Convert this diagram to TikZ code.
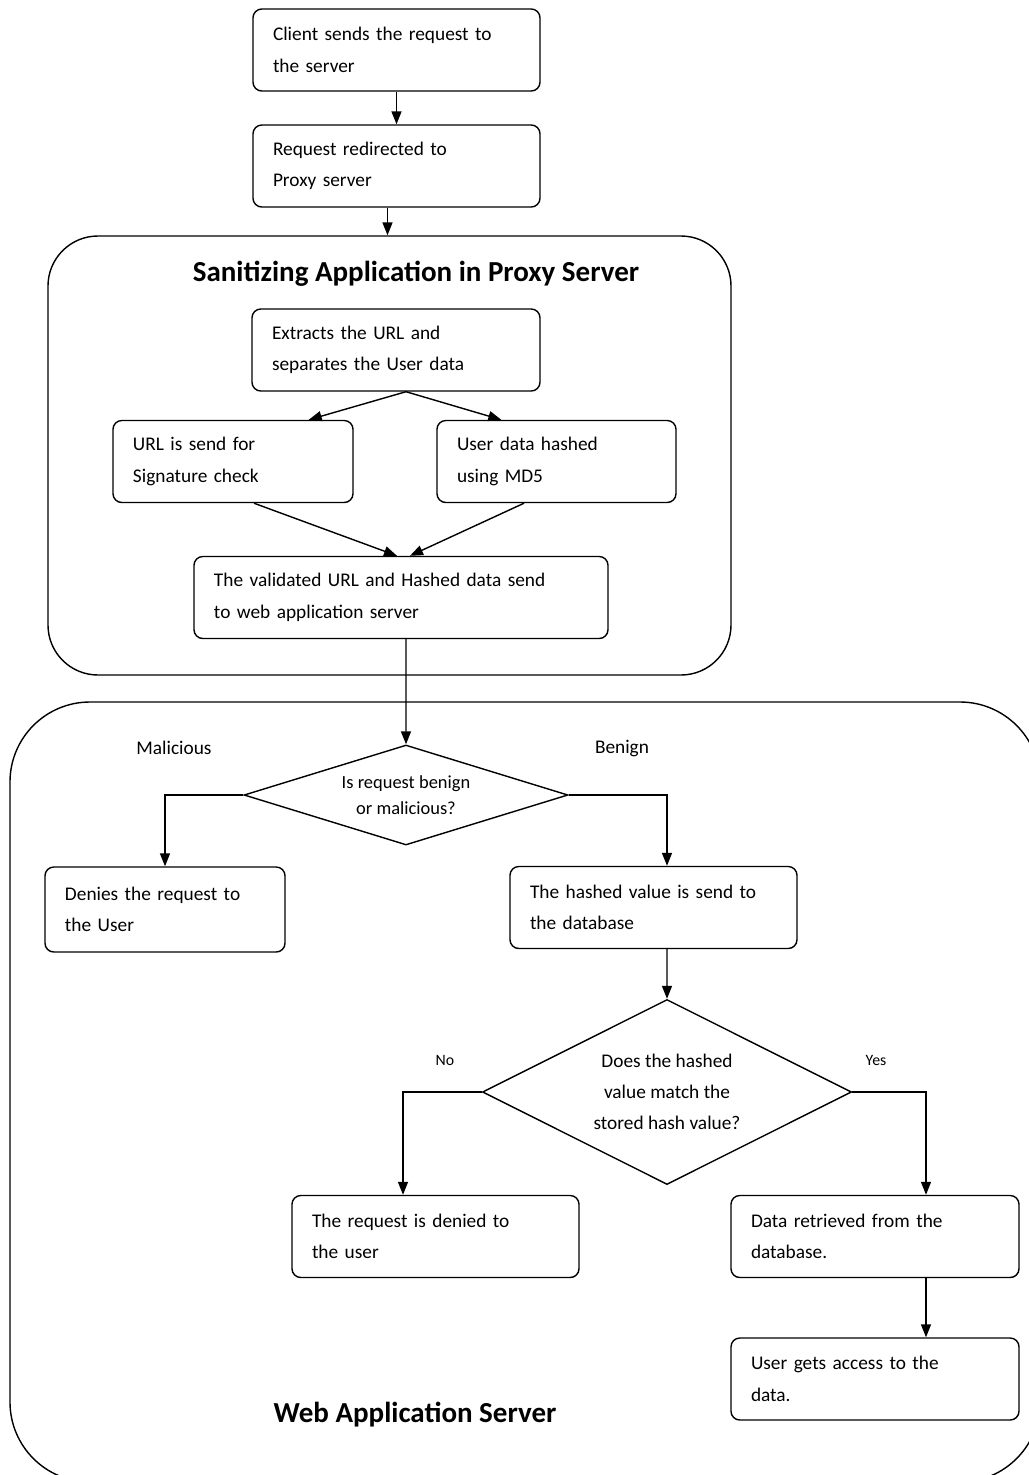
\documentclass[tikz,border=0pt]{standalone}
\usepackage{fontspec}
\setmainfont{Carlito}
\usetikzlibrary{shapes, arrows.meta}

\tikzset{
    txt/.style={font=\fontsize{11}{18}\selectfont},
    box/.style={txt, draw, rounded corners=5pt, line width=0.8pt, align=left, inner xsep=4mm, minimum height=16.4mm},
    choice/.style={diamond, draw, line width=0.8pt, inner sep=0pt, align=center},
    frame/.style={draw, line width=0.8pt},
    heading/.style={font=\bfseries\fontsize{16.5}{19}\selectfont},
    flow/.style={-{Triangle[length=2.6mm, width=2mm]}, line width=0.8pt},
}

\begin{document}
\begin{tikzpicture}[x=0.2mm, y=-0.2mm]
    \clip (0,0) rectangle (1029,1475);

    % outer frames
    \node[frame, rounded corners=10mm, minimum width=136.6mm, minimum height=87.8mm] (proxy) at (389.5,455.5) {};
    \node[frame, rounded corners=16mm, minimum width=206mm, minimum height=156mm] (webapp) at (525,1092) {};
    \node[heading] (proxytitle) at (416,274) {Sanitizing Application in Proxy Server};
    \node[heading] (webtitle) at (415,1415) {Web Application Server};

    \node[box, text width=49.4mm] (client) at (396.5,50) {Client sends the request to\\the server};
    \node[box, text width=49.4mm] (redirect) at (396.5,166) {Request redirected to\\Proxy server};
    \node[box, text width=49.6mm] (extract) at (396,350) {Extracts the URL and\\separates the User data};
    \node[box, text width=40mm] (urlcheck) at (233,461.5) {URL is send for\\Signature check};
    \node[box, text width=39.8mm] (hashmd) at (556.5,461.5) {User data hashed\\using MD5};
    \node[box, text width=74.8mm] (validated) at (401,597.5) {The validated URL and Hashed data send\\to web application server};

    \node[choice, aspect=3.2, minimum width=64.8mm, minimum height=20mm, font=\fontsize{10.5}{15}\selectfont] (benign) at (406,795) {Is request benign\\or malicious?};
    \node[txt] (malicious) at (174,748) {Malicious};
    \node[txt] (benignlbl) at (622,748) {Benign};
    \node[box, text width=40mm, minimum height=17mm] (deny) at (165,909.5) {Denies the request to\\the User};
    \node[box, text width=49.4mm] (hashsend) at (653.5,907.5) {The hashed value is send to\\the database};

    \node[choice, aspect=2, minimum width=73.8mm, minimum height=37mm, font=\fontsize{11}{17.5}\selectfont] (match) at (667,1092) {Does the hashed\\value match the\\stored hash value?};
    \node[font=\fontsize{9}{11}\selectfont] (nolbl) at (445,1060) {No};
    \node[font=\fontsize{9}{11}\selectfont] (yeslbl) at (876,1060) {Yes};
    \node[box, text width=49.4mm] (denied) at (435.5,1236.5) {The request is denied to\\the user};
    \node[box, text width=49.6mm] (retrieved) at (875,1236.5) {Data retrieved from the\\database.};
    \node[box, text width=49.6mm] (access) at (875,1379) {User gets access to the\\data.};

    \draw[flow] (client) -- (redirect);
    \draw[flow] ([xshift=-1.8mm]redirect.south) -- ([xshift=-1.8mm]redirect.south |- proxy.north); % into the proxy
    \draw[flow] ([xshift=2mm]extract.south) -- ([xshift=-9mm]urlcheck.north east);
    \draw[flow] ([xshift=2mm]extract.south) -- ([xshift=13mm]hashmd.north west);
    \draw[flow] ([xshift=4.2mm]urlcheck.south) -- ([xshift=-0.8mm]validated.north);
    \draw[flow] ([xshift=-6.5mm]hashmd.south) -- ([xshift=1.8mm]validated.north);
    \draw[flow] ([xshift=1mm]validated.south) -- (benign.north); % on to the web server
    \draw[flow] (benign.west) -| (deny.north);
    \draw[flow] (benign.east) -| ([xshift=2.7mm]hashsend.north);
    \draw[flow] ([xshift=2.7mm]hashsend.south) -- (match.north);
    \draw[flow] (match.west) -| ([xshift=-6.5mm]denied.north);
    \draw[flow] (match.east) -| ([xshift=10.2mm]retrieved.north);
    \draw[flow] ([xshift=10.2mm]retrieved.south) -- ([xshift=10.2mm]access.north);

\end{tikzpicture}
\end{document}
